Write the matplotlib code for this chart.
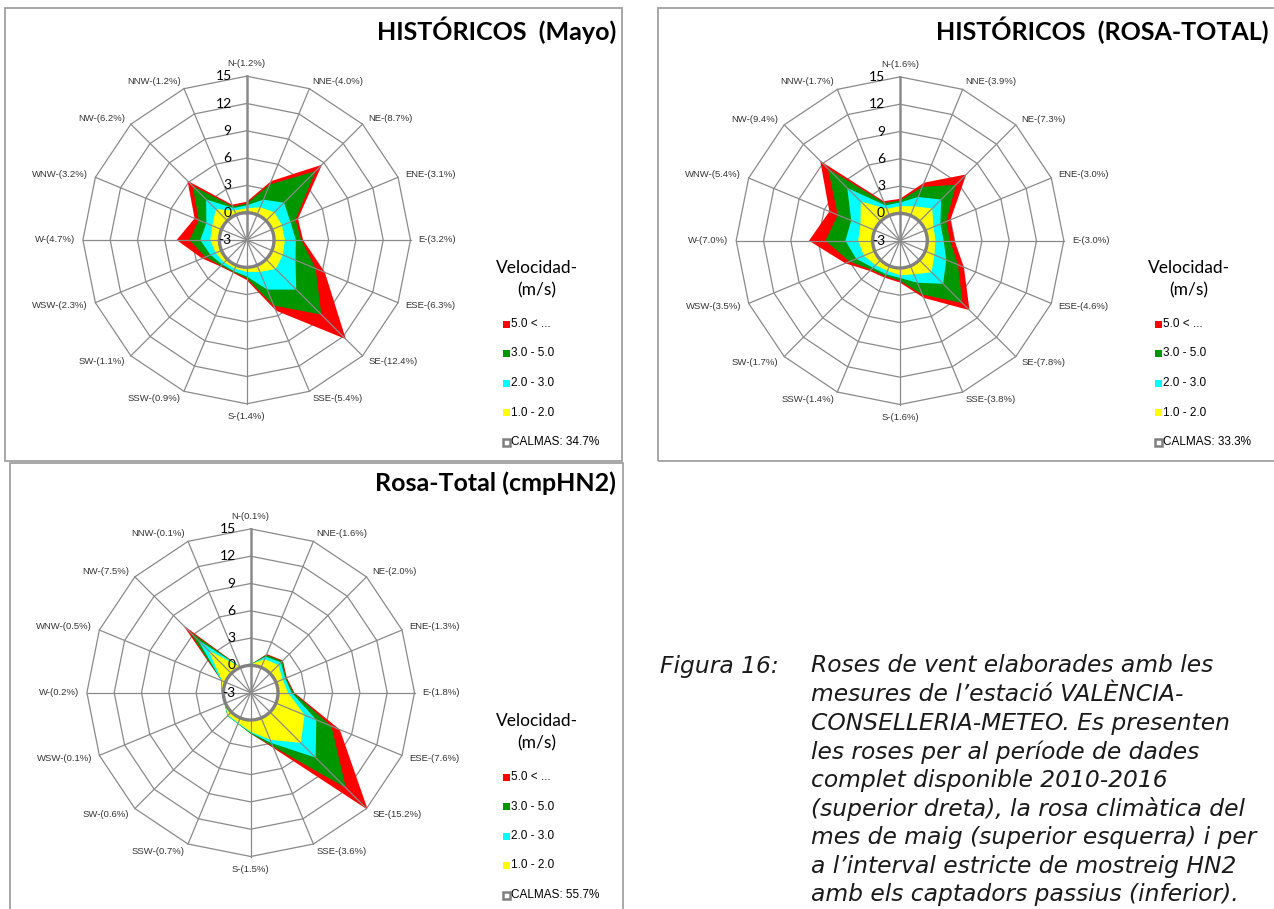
import numpy as np
import matplotlib
matplotlib.use("Agg")
import matplotlib.pyplot as plt
from matplotlib.patches import Rectangle

# rumbos (sentido horario desde el norte)
direcciones = ['N', 'NNE', 'NE', 'ENE', 'E', 'ESE', 'SE', 'SSE',
               'S', 'SSW', 'SW', 'WSW', 'W', 'WNW', 'NW', 'NNW']

# frecuencias (%) por clase de velocidad - HISTORICOS (Mayo)
mayo_1_2 = [0.5, 0.9, 1.3, 1.2, 1.2, 1.3, 1.5, 0.8, 0.5, 0.4, 0.5, 0.7, 1.0, 1.1, 1.8, 0.5]
mayo_2_3 = [0.3, 0.9, 1.5, 1.0, 1.2, 1.5, 3.2, 2.1, 0.5, 0.3, 0.3, 0.6, 1.1, 0.7, 1.5, 0.3]
mayo_3_5 = [0.2, 1.8, 4.9, 0.6, 0.6, 2.4, 3.9, 1.9, 0.2, 0.1, 0.2, 0.6, 1.2, 0.9, 2.1, 0.2]
mayo_5 = [0.2, 0.4, 1.0, 0.3, 0.2, 1.1, 3.8, 0.6, 0.2, 0.1, 0.1, 0.4, 1.4, 0.5, 0.8, 0.2]
mayo_calmas = 34.7

# HISTORICOS (ROSA-TOTAL)
total_1_2 = [0.8, 1.1, 2.0, 1.0, 0.9, 1.1, 1.9, 1.0, 0.8, 0.6, 0.8, 1.3, 1.6, 1.7, 3.1, 0.8]
total_2_3 = [0.4, 1.1, 1.4, 0.8, 0.9, 1.4, 1.8, 1.0, 0.3, 0.4, 0.4, 0.9, 1.4, 1.1, 2.1, 0.4]
total_3_5 = [0.2, 1.2, 2.3, 0.7, 0.7, 1.4, 3.0, 1.4, 0.3, 0.2, 0.3, 0.8, 2.2, 1.6, 3.0, 0.3]
total_5 = [0.2, 0.5, 1.6, 0.5, 0.5, 0.7, 1.1, 0.4, 0.2, 0.2, 0.2, 0.5, 1.8, 1.0, 1.2, 0.2]
total_calmas = 33.3

# Rosa-Total (cmpHN2)
hn2_1_2 = [0.1, 1.0, 1.3, 0.8, 1.1, 3.4, 4.8, 2.6, 1.3, 0.6, 0.5, 0.1, 0.2, 0.4, 3.6, 0.1]
hn2_2_3 = [0.0, 0.3, 0.4, 0.3, 0.4, 1.4, 2.3, 0.4, 0.1, 0.1, 0.1, 0.0, 0.0, 0.1, 1.6, 0.0]
hn2_3_5 = [0.0, 0.2, 0.2, 0.1, 0.2, 1.8, 4.7, 0.4, 0.1, 0.0, 0.0, 0.0, 0.0, 0.0, 1.4, 0.0]
hn2_5 = [0.0, 0.1, 0.1, 0.1, 0.1, 1.0, 3.4, 0.2, 0.0, 0.0, 0.0, 0.0, 0.0, 0.0, 0.9, 0.0]
hn2_calmas = 55.7

clases = ['1.0 - 2.0', '2.0 - 3.0', '3.0 - 5.0', '5.0 < ...']
colores = ['#FFFF00', '#00FFFF', '#009600', '#FF0000']
anillos = [0, 3, 6, 9, 12, 15]

W, H = 1274, 909
GRIS = '#8a8a8a'
fig = plt.figure(figsize=(W / 100, H / 100), dpi=100)


def fx(x):
    return x / W


def fy(y):
    return 1 - y / H


def rosa(cx, cy, bandas, titulo, calmas, ox, oy, caja):
    # caja del grafico
    x0, y0, x1, y1 = caja
    fig.add_artist(Rectangle((fx(x0), fy(y1)), (x1 - x0) / W, (y1 - y0) / H,
                             transform=fig.transFigure, fill=False,
                             ec='#a0a0a0', lw=1.3))
    fig.text(fx(616 + ox), fy(30 + oy), titulo, ha='right', va='center',
             family='Lato', fontweight='bold', fontsize=18)

    rad = 163.8
    ax = fig.add_axes([fx(cx - rad), fy(cy + rad), 2 * rad / W, 2 * rad / H],
                      projection='polar')
    ax.set_theta_zero_location('N')
    ax.set_theta_direction(-1)
    ax.set_ylim(-3, 15)
    ax.grid(False)
    ax.set_xticks([])
    ax.set_yticks([])
    ax.spines['polar'].set_visible(False)
    ax.patch.set_alpha(0)

    th = np.deg2rad(np.arange(16) * 22.5)
    thc = np.append(th, th[0])
    for v in anillos:
        ax.plot(thc, [v] * 17, color=GRIS, lw=0.9, zorder=1, clip_on=False)

    acum = np.cumsum(np.array(bandas), axis=0)
    for k in reversed(range(4)):
        ax.fill(thc, np.append(acum[k], acum[k][0]), color=colores[k], lw=0, zorder=2)

    circ = np.linspace(0, 2 * np.pi, 361)
    ax.fill(circ, np.zeros_like(circ), color='white', lw=0, zorder=3)
    for i, t in enumerate(th):
        ax.plot([t, t], [-3, 15], color=GRIS, lw=1.8 if i == 0 else 0.9,
                zorder=4, clip_on=False)
    ax.plot(circ, np.zeros_like(circ), color='#808080', lw=2.4, zorder=5)

    for v in range(-3, 16, 3):
        ax.annotate(str(v), xy=(0, v), xytext=(-15, 0), textcoords='offset pixels',
                    ha='right', va='center', family='Lato', fontsize=10,
                    zorder=6, annotation_clip=False)

    totales = acum[-1]
    for i, (d, t) in enumerate(zip(direcciones, totales)):
        s, c = np.sin(th[i]), np.cos(th[i])
        if abs(s) < 0.1:
            ha, va = 'center', ('bottom' if c > 0 else 'top')
        else:
            ha, va = ('left' if s > 0 else 'right'), 'center'
        ax.annotate(f"{d}-({t:.1f}%)", xy=(th[i], 15), xytext=(8 * s, 8 * c),
                    textcoords='offset pixels', ha=ha, va=va,
                    family='Liberation Sans', fontsize=6.8, color='#333333',
                    annotation_clip=False)

    # leyenda
    fig.text(fx(537 + ox), fy(268 + oy), 'Velocidad-', ha='center', va='center',
             family='Lato', fontsize=12.5)
    fig.text(fx(537 + ox), fy(290 + oy), '(m/s)', ha='center', va='center',
             family='Lato', fontsize=12.5)
    for j, k in enumerate(reversed(range(4))):
        yy = 324 + oy + 29.5 * j
        fig.add_artist(Rectangle((fx(503 + ox), fy(yy + 3.5)), 7 / W, 7 / H,
                                 transform=fig.transFigure, fc=colores[k], lw=0))
        fig.text(fx(511 + ox), fy(yy), clases[k], ha='left', va='center',
                 family='Liberation Sans', fontsize=8.5)
    yy = 324 + oy + 29.5 * 4
    fig.add_artist(Rectangle((fx(503 + ox), fy(yy + 3.5)), 7 / W, 7 / H,
                             transform=fig.transFigure, fc='white', ec='#808080', lw=1.8))
    fig.text(fx(511 + ox), fy(yy), f'CALMAS: {calmas:.1f}%', ha='left', va='center',
             family='Liberation Sans', fontsize=8.5)


rosa(246.7, 240, [mayo_1_2, mayo_2_3, mayo_3_5, mayo_5],
     'HISTÓRICOS  (Mayo)', mayo_calmas, 0, 0, (5, 8, 622, 460.7))
rosa(900, 240.7, [total_1_2, total_2_3, total_3_5, total_5],
     'HISTÓRICOS  (ROSA-TOTAL)', total_calmas, 652, 0, (658, 8, 1290, 460.7))
rosa(250.7, 692.7, [hn2_1_2, hn2_2_3, hn2_3_5, hn2_5],
     'Rosa-Total (cmpHN2)', hn2_calmas, 0, 453, (10, 463, 623, 920))

# pie de figura
pie = ['Roses de vent elaborades amb les',
       'mesures de l’estació VALÈNCIA-',
       'CONSELLERIA-METEO. Es presenten',
       'les roses per al període de dades',
       'complet disponible 2010-2016',
       '(superior dreta), la rosa climàtica del',
       'mes de maig (superior esquerra) i per',
       'a l’interval estricte de mostreig HN2',
       'amb els captadors passius (inferior).']
fig.text(fx(660), fy(666), 'Figura 16:', ha='left', va='center',
         family='DejaVu Sans', style='italic', fontsize=16.8, color='#1a1a1a')
for i, linea in enumerate(pie):
    fig.text(fx(811), fy(666 + 28.6 * i), linea, ha='left', va='center',
             family='DejaVu Sans', style='italic', fontsize=16.8, color='#1a1a1a')

fig.savefig('out.png', dpi=100)
